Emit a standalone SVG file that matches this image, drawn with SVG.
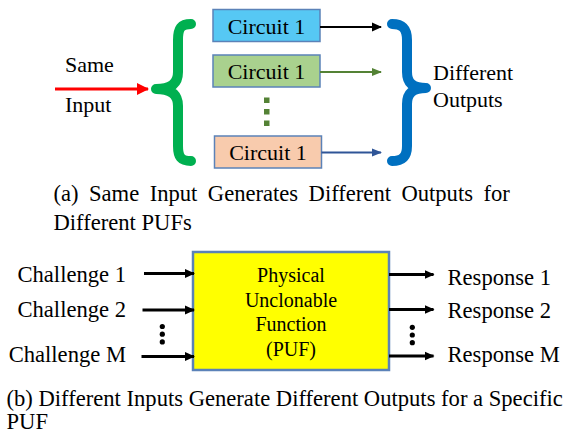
<svg xmlns="http://www.w3.org/2000/svg" width="564" height="434" viewBox="0 0 564 434">
  <defs>
    <marker id="hRed" markerUnits="userSpaceOnUse" markerWidth="12" markerHeight="12" refX="11" refY="6" orient="auto">
      <path d="M0,0 L12,6 L0,12 Z" fill="#ff0000"/>
    </marker>
    <marker id="hBlack" markerUnits="userSpaceOnUse" markerWidth="10" markerHeight="10" refX="9" refY="5" orient="auto">
      <path d="M0,0.5 L10,5 L0,9.5 Z" fill="#000"/>
    </marker>
    <marker id="hGreen" markerUnits="userSpaceOnUse" markerWidth="10" markerHeight="10" refX="9" refY="5" orient="auto">
      <path d="M0,1 L10,5 L0,9 Z" fill="#548235"/>
    </marker>
    <marker id="hBlue" markerUnits="userSpaceOnUse" markerWidth="10" markerHeight="10" refX="9" refY="5" orient="auto">
      <path d="M0,1 L10,5 L0,9 Z" fill="#2f5597"/>
    </marker>
  </defs>

  <!-- Part (a): one input fanned out to several circuits -->
  <g id="input-label">
    <text x="65" y="72" font-family="Liberation Serif" style="font-family:'Liberation Serif'" font-size="22">Same</text>
    <text x="65" y="112" font-family="Liberation Serif" style="font-family:'Liberation Serif'" font-size="22">Input</text>
  </g>
  <g id="left-brace" fill="none" stroke-width="10" stroke-linecap="round" stroke-linejoin="round">
    <path stroke="#00b050" d="M191,24 C181,24 178,28 178,40 L178,72 C178,84 170,89 156,89 C170,89 178,94 178,106 L178,146 C178,157 181,161 191,161"/>
  </g>
  <g id="circuit-a">
    <rect x="213" y="9.5" width="107" height="32" fill="#56c8f4" stroke="#5b82b8" stroke-width="1.5"/>
    <text x="266.5" y="33.5" font-family="Liberation Serif" style="font-family:'Liberation Serif'" font-size="22" text-anchor="middle">Circuit 1</text>
  </g>
  <g id="circuit-b">
    <rect x="213" y="55" width="107" height="32" fill="#a9d18e" stroke="#5b82b8" stroke-width="1.5"/>
    <text x="266.5" y="78.5" font-family="Liberation Serif" style="font-family:'Liberation Serif'" font-size="22" text-anchor="middle">Circuit 1</text>
  </g>
  <g id="circuit-dots" fill="#548235">
    <rect x="264" y="97.5" width="5.5" height="5.5"/>
    <rect x="264" y="109" width="5.5" height="5.5"/>
    <rect x="264" y="120.5" width="5.5" height="5.5"/>
  </g>
  <g id="circuit-c">
    <rect x="214.5" y="136" width="107" height="32" fill="#f8cbad" stroke="#5b82b8" stroke-width="1.5"/>
    <text x="268" y="159.5" font-family="Liberation Serif" style="font-family:'Liberation Serif'" font-size="22" text-anchor="middle">Circuit 1</text>
  </g>
  <g id="right-brace" fill="none" stroke-width="10" stroke-linecap="round" stroke-linejoin="round">
    <path stroke="#0070c0" d="M392,24 C402,24 407,28 407,40 L407,72 C407,83 413,88 426,88 C413,88 407,93 407,104 L407,146 C407,157 402,161 392,161"/>
  </g>
  <g id="output-label">
    <text x="433" y="80" font-family="Liberation Serif" style="font-family:'Liberation Serif'" font-size="22">Different</text>
    <text x="433" y="107" font-family="Liberation Serif" style="font-family:'Liberation Serif'" font-size="22">Outputs</text>
  </g>

  <g id="connectors-a" fill="none">
    <line x1="55" y1="89" x2="148" y2="89" stroke="#ff0000" stroke-width="3" marker-end="url(#hRed)"/>
    <line x1="320" y1="27" x2="381" y2="27" stroke="#000" stroke-width="2" marker-end="url(#hBlack)"/>
    <line x1="320" y1="72" x2="381" y2="72" stroke="#548235" stroke-width="2" marker-end="url(#hGreen)"/>
    <line x1="321.5" y1="152.5" x2="381" y2="152.5" stroke="#2f5597" stroke-width="2" marker-end="url(#hBlue)"/>
  </g>

  <g id="caption-a">
    <text x="53.5" y="201" font-family="Liberation Serif" style="font-family:'Liberation Serif'" font-size="22.6" word-spacing="4.8">(a) Same Input Generates Different Outputs for</text>
    <text x="53.5" y="229.5" font-family="Liberation Serif" style="font-family:'Liberation Serif'" font-size="22.6">Different PUFs</text>
  </g>

  <!-- Part (b): many challenges into one PUF -->
  <g id="challenges">
    <text x="126" y="282" font-family="Liberation Serif" style="font-family:'Liberation Serif'" font-size="22.6" text-anchor="end">Challenge 1</text>
    <text x="126" y="317" font-family="Liberation Serif" style="font-family:'Liberation Serif'" font-size="22.6" text-anchor="end">Challenge 2</text>
    <text x="126" y="362" font-family="Liberation Serif" style="font-family:'Liberation Serif'" font-size="22.6" text-anchor="end">Challenge M</text>
  </g>
  <g id="challenge-dots" fill="#000">
    <circle cx="162.3" cy="326.5" r="2.6"/>
    <circle cx="162.3" cy="334.2" r="2.6"/>
    <circle cx="162.3" cy="341.9" r="2.6"/>
  </g>
  <g id="puf">
    <rect x="193" y="252" width="196" height="118" fill="#ffff00" stroke="#5b82b8" stroke-width="2.5"/>
    <text x="291" y="282" font-family="Liberation Serif" style="font-family:'Liberation Serif'" font-size="20" text-anchor="middle">Physical</text>
    <text x="291" y="306.5" font-family="Liberation Serif" style="font-family:'Liberation Serif'" font-size="20" text-anchor="middle">Unclonable</text>
    <text x="291" y="331" font-family="Liberation Serif" style="font-family:'Liberation Serif'" font-size="20" text-anchor="middle">Function</text>
    <text x="291" y="355.5" font-family="Liberation Serif" style="font-family:'Liberation Serif'" font-size="20" text-anchor="middle">(PUF)</text>
  </g>
  <g id="response-dots" fill="#000">
    <circle cx="412.3" cy="327.3" r="2.6"/>
    <circle cx="412.3" cy="335" r="2.6"/>
    <circle cx="412.3" cy="342.7" r="2.6"/>
  </g>
  <g id="responses">
    <text x="447.5" y="285" font-family="Liberation Serif" style="font-family:'Liberation Serif'" font-size="22.6">Response 1</text>
    <text x="447.5" y="317.5" font-family="Liberation Serif" style="font-family:'Liberation Serif'" font-size="22.6">Response 2</text>
    <text x="447.5" y="362" font-family="Liberation Serif" style="font-family:'Liberation Serif'" font-size="22.6">Response M</text>
  </g>

  <g id="connectors-b" fill="none" stroke="#000" stroke-width="3">
    <line x1="144" y1="273.5" x2="194" y2="273.5" marker-end="url(#hBlack)"/>
    <line x1="142.5" y1="310" x2="194" y2="310" marker-end="url(#hBlack)"/>
    <line x1="141.5" y1="356.5" x2="194" y2="356.5" marker-end="url(#hBlack)"/>
    <line x1="389" y1="274.5" x2="433.5" y2="274.5" marker-end="url(#hBlack)"/>
    <line x1="389" y1="309.5" x2="433.5" y2="309.5" marker-end="url(#hBlack)"/>
    <line x1="389" y1="356" x2="433.5" y2="356" marker-end="url(#hBlack)"/>
  </g>

  <g id="caption-b">
    <text x="6.5" y="406" font-family="Liberation Serif" style="font-family:'Liberation Serif'" font-size="22.6">(b) Different Inputs Generate Different Outputs for a Specific</text>
    <text x="6.5" y="429" font-family="Liberation Serif" style="font-family:'Liberation Serif'" font-size="22.6">PUF</text>
  </g>
</svg>
